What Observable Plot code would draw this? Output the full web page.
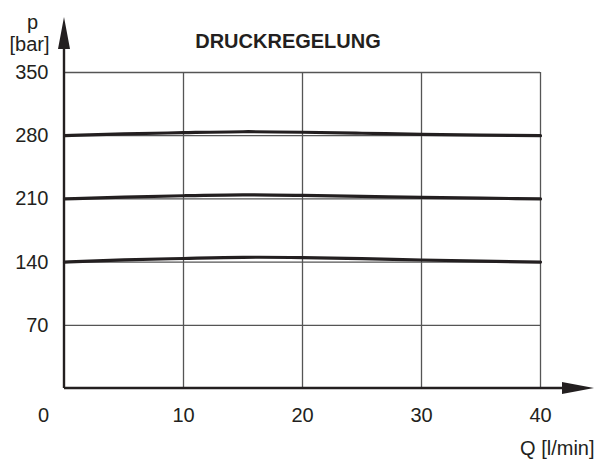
<!DOCTYPE html>
<html>
<head>
<meta charset="utf-8">
<script src="https://cdn.jsdelivr.net/npm/d3@7"></script>
<script src="https://cdn.jsdelivr.net/npm/@observablehq/plot@0.6"></script>
<style>
  html, body { margin: 0; padding: 0; background: #fff; }
  svg { font-family: "Liberation Sans", Arial, sans-serif; }
</style>
</head>
<body>
<div id="chart"></div>
<script>
// Flow rate Q [l/min] at which the pressure was sampled
const flow = [0, 5, 10, 15, 20, 25, 30, 35, 40];
// Regulated pressure p [bar] for the three pressure settings
const p140 = [140, 142.5, 144, 145.3, 145, 143.8, 142.3, 141, 140];
const p210 = [210, 212, 213.5, 214.5, 213.8, 212.8, 211.6, 210.8, 210];
const p280 = [280, 282, 283.3, 284.4, 283.8, 282.7, 281.5, 280.7, 280];

const xTicks = [0, 10, 20, 30, 40];
const yTicks = [70, 140, 210, 280, 350];
const title = "DRUCKREGELUNG";
const xLabel = "Q [l/min]";
const yLabel = ["p", "[bar]"];

const series = [
  {name: "140", values: p140},
  {name: "210", values: p210},
  {name: "280", values: p280}
];
const rows = series.flatMap(s => s.values.map((p, i) => ({setting: s.name, q: flow[i], p})));

const ink = "#231f20";

// Axis lines with filled arrowheads, drawn from the scale ranges
function arrowAxes(index, scales, values, dimensions) {
  const x0 = scales.x(0);
  const y0 = scales.y(0);
  const xEnd = dimensions.width - 7;
  const yEnd = 17;
  const head = 32, half = 6;
  const g = d3.create("svg:g");
  g.append("line")
    .attr("x1", x0).attr("y1", y0).attr("x2", xEnd - head).attr("y2", y0)
    .attr("stroke", ink).attr("stroke-width", 2.4);
  g.append("line")
    .attr("x1", x0).attr("y1", y0).attr("x2", x0).attr("y2", yEnd + head)
    .attr("stroke", ink).attr("stroke-width", 2.4);
  g.append("path")
    .attr("d", `M${xEnd},${y0}L${xEnd - head},${y0 - half}L${xEnd - head},${y0 + half}Z`)
    .attr("fill", ink);
  g.append("path")
    .attr("d", `M${x0},${yEnd}L${x0 - half},${yEnd + head}L${x0 + half},${yEnd + head}Z`)
    .attr("fill", ink);
  return g.node();
}

const fs = 20;

const chart = Plot.plot({
  width: 601,
  height: 459,
  marginLeft: 64,
  marginRight: 61,
  marginTop: 72,
  marginBottom: 71,
  style: {fontFamily: "Liberation Sans, Arial, sans-serif", background: "#fff"},
  x: {domain: [0, 40], axis: null},
  y: {domain: [0, 350], axis: null},
  marks: [
    Plot.ruleX(xTicks.filter(d => d > 0), {stroke: "#555", strokeWidth: 1.3}),
    Plot.ruleY(yTicks, {stroke: "#555", strokeWidth: 1.3}),
    Plot.line(rows, {x: "q", y: "p", z: "setting", curve: "natural", stroke: ink, strokeWidth: 3.2}),
    arrowAxes,
    // y tick labels
    Plot.text(yTicks, {x: 0, y: d => d, text: d => String(d), dx: -16, textAnchor: "end", fontSize: fs, fill: ink}),
    // x tick labels (origin label sits left of the axis)
    Plot.text(xTicks.filter(d => d === 0), {x: d => d, y: 0, text: d => String(d), dx: -21, dy: 27, fontSize: fs, fill: ink}),
    Plot.text(xTicks.filter(d => d > 0), {x: d => d, y: 0, text: d => String(d), dy: 27, fontSize: fs, fill: ink}),
    // axis names and title
    Plot.text([xLabel], {frameAnchor: "bottom-right", text: d => d, dx: 54, dy: 60, lineAnchor: "middle", textAnchor: "end", fontSize: fs, fill: ink}),
    Plot.text([yLabel[0]], {frameAnchor: "top-left", text: d => d, dx: -32, dy: -50, lineAnchor: "middle", textAnchor: "middle", fontSize: fs, fill: ink}),
    Plot.text([yLabel[1]], {frameAnchor: "top-left", text: d => d, dx: -35, dy: -28, lineAnchor: "middle", textAnchor: "middle", fontSize: fs, fill: ink}),
    Plot.text([title], {frameAnchor: "top-left", text: d => d, dx: 223.5, dy: -31, lineAnchor: "middle", textAnchor: "middle", fontSize: fs, fontWeight: "bold", fill: ink})
  ]
});

document.getElementById("chart").append(chart);
</script>
</body>
</html>
